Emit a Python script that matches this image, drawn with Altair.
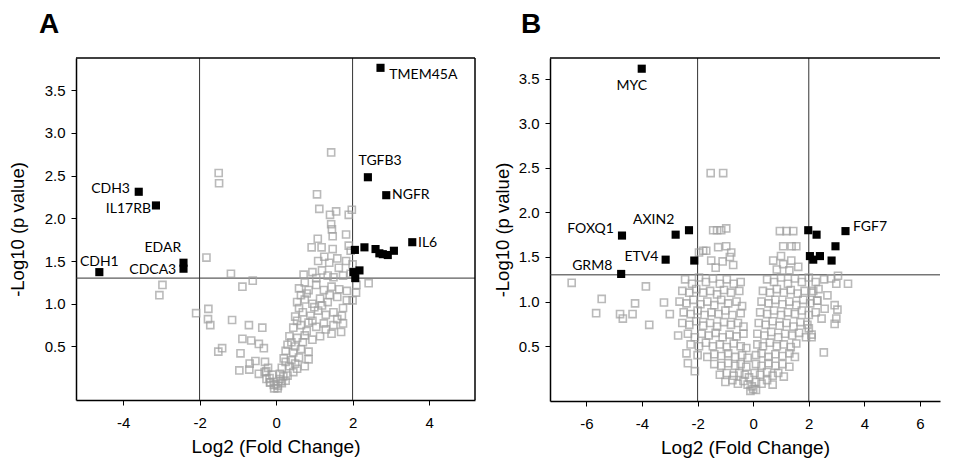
import altair as alt
import pandas as pd

# ---------------- Panel A data ----------------
a_gray = [
    (-2.97,1.22),(-3.05,1.10),(-1.82,1.54),(-1.50,2.53),(-1.49,2.41),(-1.18,1.35),(-0.88,1.20),(-0.61,1.27),
    (-2.09,0.89),(-1.77,0.94),(-1.78,0.82),(-1.72,0.75),(-1.15,0.81),(-0.71,0.75),(-0.36,0.72),(-0.88,0.59),
    (-0.65,0.57),(-0.45,0.53),(-0.32,0.48),(-1.41,0.48),(-1.51,0.44),(-0.93,0.42),(-0.69,0.30),(-0.54,0.33),
    (-0.29,0.32),(-0.96,0.22),(-0.70,0.23),(-0.45,0.18),(-0.26,0.21),(-0.21,0.25),(-0.17,0.13),(-0.16,0.08),
    (-0.06,0.05),(0.04,0.01),(-0.01,0.06),(0.13,0.09),(0.19,0.15),
    (-0.05,0.01),(0.05,0.04),(0.15,0.07),(-0.15,0.08),(0.10,0.12),(-0.25,0.12),(0.25,0.10),
    (-0.10,0.17),(0.10,0.18),(0.30,0.16),(0.45,0.20),(-0.30,0.20),
    (0.15,0.25),(0.35,0.27),(0.55,0.24),(0.75,0.27),(0.25,0.32),
    (0.20,0.36),(0.40,0.34),(0.60,0.37),(0.85,0.35),(0.50,0.30),
    (0.25,0.45),(0.45,0.43),(0.65,0.47),(0.85,0.44),(0.30,0.52),(0.50,0.50),(0.70,0.55),
    (0.35,0.62),(0.55,0.60),(0.75,0.63),(0.95,0.58),(1.15,0.62),(1.45,0.65),(1.70,0.67),
    (0.45,0.72),(0.65,0.75),(0.85,0.78),(1.05,0.73),(1.25,0.77),(1.50,0.75),(1.75,0.77),(0.55,0.80),(0.95,0.80),
    (0.50,0.85),(0.70,0.90),(0.90,0.86),(1.10,0.92),(1.30,0.87),(1.50,0.90),(1.72,0.86),(0.60,0.95),(1.00,0.96),
    (0.55,1.02),(0.75,1.05),(0.95,1.00),(1.15,1.06),(1.35,1.02),(1.60,1.08),(1.85,1.04),(2.00,1.04),(0.65,1.10),
    (0.60,1.18),(0.85,1.16),(1.05,1.22),(1.25,1.16),(1.45,1.20),(1.65,1.17),(1.85,1.15),(2.10,1.22),(2.09,1.13),
    (2.42,1.24),(0.75,1.25),
    (0.72,1.34),(0.95,1.37),(1.20,1.39),(1.35,1.33),(1.50,1.31),(1.75,1.33),(1.95,1.35),(1.05,1.30),
    (1.26,1.55),(1.39,1.48),(1.60,1.53),(1.83,1.50),(2.00,1.46),(1.64,1.42),(1.10,1.50),
    (0.93,1.66),(1.19,1.66),(1.48,1.64),(1.90,1.68),(1.95,1.62),
    (1.09,1.76),(1.48,1.79),(1.83,1.81),(1.44,1.93),(1.46,1.87),
    (1.41,2.04),(1.57,2.08),(1.90,2.04),(1.98,2.10),(1.13,2.11),(1.07,2.28),(1.44,2.77),
    (0.40,0.55),(0.80,0.68),(1.30,0.70),(1.60,0.82),(1.20,0.98),(0.80,1.12),(1.40,1.10),(1.75,0.95),
]
a_sig = [
    (2.73,3.76),(2.40,2.48),(2.88,2.27),(3.56,1.72),(-3.59,2.31),(-3.14,2.15),(-4.62,1.37),
    (-2.42,1.48),(-2.42,1.41),(2.06,1.63),(2.31,1.66),(2.60,1.64),(2.70,1.59),(2.79,1.58),
    (2.92,1.57),(3.08,1.62),(2.18,1.39),(2.02,1.37),(2.07,1.30),
]
a_labels = ["TMEM45A", "TGFB3", "NGFR", "IL6", "CDH3", "IL17RB", "CDH1", "EDAR", "CDCA3"]
a_label_x = [2.96, 2.72, 3.03, 3.71, -3.82, -3.27, -4.62, -2.96, -2.61]
a_label_y = [3.68, 2.67, 2.27, 1.71, 2.34, 2.11, 1.49, 1.65, 1.40]
a_label_align = ["left", "center", "left", "left", "right", "right", "center", "center", "right"]

# ---------------- Panel B data ----------------
b_gray = [
    # far left sparse
    (-6.53,1.21),(-5.45,1.03),(-5.65,0.87),(-4.79,0.86),(-4.69,0.81),(-4.34,0.86),(-4.25,0.98),
    (-3.86,1.17),(-3.74,0.74),(-3.21,0.99),(-3.00,0.86),
    # left arm above threshold
    (-1.80,1.57),(-1.69,1.57),(-1.51,1.46),(-1.26,1.61),(-0.97,1.62),(-0.79,1.55),(-0.84,1.50),
    (-0.72,1.41),(-1.44,1.80),(-1.30,1.80),(-0.97,1.82),(-1.15,1.80),(-1.53,2.44),(-1.08,2.44),
    (-1.95,1.55),(-1.35,1.38),(-1.10,1.45),
    # left arm rows
    (-2.45,1.25),(-2.20,1.20),(-1.95,1.27),(-1.70,1.22),(-1.45,1.26),(-1.20,1.20),(-0.95,1.25),(-0.70,1.20),(-0.45,1.22),
    (-2.55,1.12),(-2.30,1.10),(-2.05,1.14),(-1.80,1.10),(-1.55,1.12),(-1.30,1.08),(-1.05,1.13),(-0.80,1.10),(-0.50,1.12),
    (-2.65,1.00),(-2.40,0.98),(-2.15,1.02),(-1.90,0.97),(-1.65,1.00),(-1.40,0.96),(-1.15,1.02),(-0.90,0.98),(-0.60,1.00),(-0.40,0.95),
    (-2.50,0.88),(-2.25,0.86),(-2.00,0.90),(-1.75,0.85),(-1.50,0.88),(-1.25,0.86),(-1.00,0.90),(-0.75,0.85),(-0.45,0.87),
    (-2.55,0.76),(-2.30,0.74),(-2.05,0.78),(-1.80,0.73),(-1.55,0.76),(-1.30,0.72),(-1.05,0.77),(-0.80,0.74),(-0.55,0.76),(-0.35,0.72),
    (-2.70,0.62),(-2.35,0.64),(-2.10,0.60),(-1.85,0.64),(-1.60,0.62),(-1.35,0.65),(-1.10,0.60),(-0.85,0.63),(-0.60,0.61),(-0.35,0.64),
    (-2.25,0.52),(-1.95,0.50),(-1.70,0.54),(-1.45,0.50),(-1.20,0.52),(-0.95,0.49),(-0.70,0.53),(-0.45,0.50),(-0.25,0.48),
    (-2.40,0.42),(-2.00,0.40),(-1.65,0.38),(-1.40,0.41),(-1.15,0.39),(-0.90,0.42),(-0.65,0.38),(-0.40,0.40),(-0.20,0.37),
    (-2.35,0.31),(-1.40,0.30),(-1.15,0.28),(-0.90,0.31),(-0.65,0.28),(-0.45,0.30),(-0.25,0.27),
    (-2.10,0.22),(-1.20,0.18),(-0.95,0.20),(-0.70,0.17),(-0.50,0.20),(-0.30,0.18),(-0.15,0.15),
    (-1.00,0.10),(-0.75,0.12),(-0.55,0.08),(-0.35,0.11),(-0.20,0.07),(-0.05,0.05),
    (0.00,0.02),(-0.10,0.00),(0.10,0.01),
    # right arm above threshold
    (0.96,1.79),(1.20,1.79),(1.44,1.79),(1.08,1.62),(1.38,1.62),(1.55,1.62),(0.72,1.46),(1.00,1.51),
    (1.37,1.46),(1.62,1.39),(1.08,1.42),(0.85,1.36),(1.30,1.35),
    # right arm rows
    (0.50,1.25),(0.75,1.22),(1.00,1.27),(1.25,1.20),(1.50,1.26),(1.75,1.22),(2.00,1.27),(2.25,1.22),(2.55,1.25),(2.80,1.26),
    (0.35,1.12),(0.60,1.10),(0.85,1.14),(1.10,1.10),(1.35,1.13),(1.60,1.09),(1.85,1.12),(2.10,1.10),(2.35,1.14),
    (0.30,1.00),(0.55,0.98),(0.80,1.02),(1.05,0.97),(1.30,1.00),(1.55,0.96),(1.80,1.02),(2.05,0.98),(2.30,1.01),
    (0.25,0.88),(0.50,0.86),(0.75,0.90),(1.00,0.85),(1.25,0.88),(1.50,0.86),(1.75,0.90),(2.00,0.85),(2.25,0.88),
    (0.20,0.76),(0.45,0.74),(0.70,0.78),(0.95,0.73),(1.20,0.76),(1.45,0.72),(1.70,0.77),(1.95,0.74),
    (0.15,0.64),(0.40,0.62),(0.65,0.66),(0.90,0.60),(1.15,0.64),(1.40,0.62),(1.65,0.65),(1.90,0.60),(2.10,0.63),
    (0.15,0.52),(0.35,0.50),(0.60,0.54),(0.85,0.50),(1.10,0.52),(1.35,0.49),(1.55,0.53),
    (0.10,0.40),(0.30,0.42),(0.55,0.38),(0.80,0.41),(1.05,0.39),(1.30,0.42),(1.50,0.38),
    (0.10,0.30),(0.30,0.28),(0.55,0.31),(0.80,0.28),(1.05,0.30),(1.30,0.27),
    (0.05,0.20),(0.25,0.18),(0.50,0.21),(0.70,0.17),(0.90,0.20),(1.10,0.16),
    (0.10,0.10),(0.30,0.08),(0.50,0.12),(0.70,0.07),
    # right sparse
    (3.05,1.29),(3.41,1.20),(2.99,1.20),(2.67,1.07),(2.93,0.96),(3.03,0.91),(2.99,0.81),(2.93,0.75),
    (2.57,0.92),(2.46,0.81),(2.16,1.12),(2.31,1.01),(2.10,0.60),(2.00,0.70),(2.54,0.43),
]
b_sig = [
    (-4.01,3.61),(-4.72,1.74),(-4.75,1.31),(-3.15,1.47),(-2.79,1.75),(-2.31,1.80),(-2.12,1.46),
    (1.98,1.80),(2.28,1.75),(2.04,1.51),(2.16,1.47),(2.40,1.51),(2.82,1.46),(2.96,1.62),(3.32,1.79),
]
b_labels = ["MYC", "FOXQ1", "AXIN2", "ETV4", "GRM8", "FGF7"]
b_label_x = [-4.37, -5.01, -3.58, -3.41, -5.07, 3.59]
b_label_y = [3.42, 1.81, 1.91, 1.50, 1.40, 1.84]
b_label_align = ["center", "right", "center", "right", "right", "left"]

LABEL_FONT = "Liberation Sans"


def panel(letter, gray, sig, labels, lx, ly, lal, xdom, ydom, xticks, W, H, right_border, title_dx, ytp):
    xs = alt.Scale(domain=xdom, nice=False, zero=False)
    ys = alt.Scale(domain=ydom, nice=False, zero=False)
    xax = alt.Axis(values=xticks, labelExpr="toString(datum.value)", title="Log2 (Fold Change)",
                   titleFontSize=19)
    yax = alt.Axis(values=[0.5, 1.0, 1.5, 2.0, 2.5, 3.0, 3.5], format=".1f", title="-Log10 (p value)",
                   titlePadding=ytp, titleFontSize=18.5)

    gdf = pd.DataFrame(gray, columns=["x", "y"])
    sdf = pd.DataFrame(sig, columns=["x", "y"])
    ldf = pd.DataFrame({"x": lx, "y": ly, "label": labels, "align": lal})

    g = alt.Chart(gdf).mark_square(filled=False, stroke="#9e9e9e", strokeWidth=1.6, size=50).encode(
        x=alt.X("x:Q", scale=xs, axis=xax), y=alt.Y("y:Q", scale=ys, axis=yax))
    s = alt.Chart(sdf).mark_square(filled=True, color="black", size=66, opacity=1).encode(
        x=alt.X("x:Q"), y=alt.Y("y:Q"))
    vl = alt.Chart(pd.DataFrame({"x": [-2, 2]})).mark_rule(color="#333333", strokeWidth=1).encode(x="x:Q")
    hl = alt.Chart(pd.DataFrame({"y": [1.3]})).mark_rule(color="#333333", strokeWidth=1).encode(y="y:Q")
    layers = [vl, hl, g, s]
    for al in ["left", "right", "center"]:
        sub = ldf[ldf["align"] == al]
        if len(sub):
            layers.append(alt.Chart(sub).mark_text(align=al, baseline="middle", font="Lato", fontSize=14,
                                                   color="black").encode(x="x:Q", y="y:Q", text="label:N"))
    one = pd.DataFrame({"d": [0]})
    layers.append(alt.Chart(one).mark_rule(color="black", strokeWidth=1.5).encode(
        x=alt.value(0), x2=alt.value(W), y=alt.value(0)))
    if right_border:
        layers.append(alt.Chart(one).mark_rule(color="black", strokeWidth=1.5).encode(
            x=alt.value(W), y=alt.value(0), y2=alt.value(H)))
    return alt.layer(*layers).properties(
        width=W, height=H,
        title=alt.TitleParams(letter, anchor="start", frame="group", fontSize=28, fontWeight="bold",
                              font=LABEL_FONT, color="black", dx=title_dx, offset=18),
    )


pa = panel("A", a_gray, a_sig, a_labels, a_label_x, a_label_y, a_label_align,
           [-5.23, 5.2], [-0.126, 3.875], [-4, -2, 0, 2, 4], 399, 342, True, -37, 17)
pb = panel("B", b_gray, b_sig, b_labels, b_label_x, b_label_y, b_label_align,
           [-7.31, 6.72], [-0.114, 3.73], [-6, -4, -2, 0, 2, 4, 6], 390, 343, False, -29, 6)

chart = alt.hconcat(pa, pb, spacing=17).configure_view(stroke=None).configure_axis(
    grid=False, domainColor="black", domainWidth=1.5, tickColor="black", tickSize=5, tickWidth=1,
    labelFont=LABEL_FONT, labelFontSize=15, labelColor="black", labelPadding=6,
    titleFont=LABEL_FONT, titleFontSize=17.5, titleFontWeight="normal", titleColor="black",
).configure_axisX(labelPadding=10, titlePadding=7.5).properties(
    background="white", padding={"left": 0, "top": 3, "right": 0, "bottom": 0})

chart.save("out.html", embed_options={"renderer": "svg", "actions": False})
